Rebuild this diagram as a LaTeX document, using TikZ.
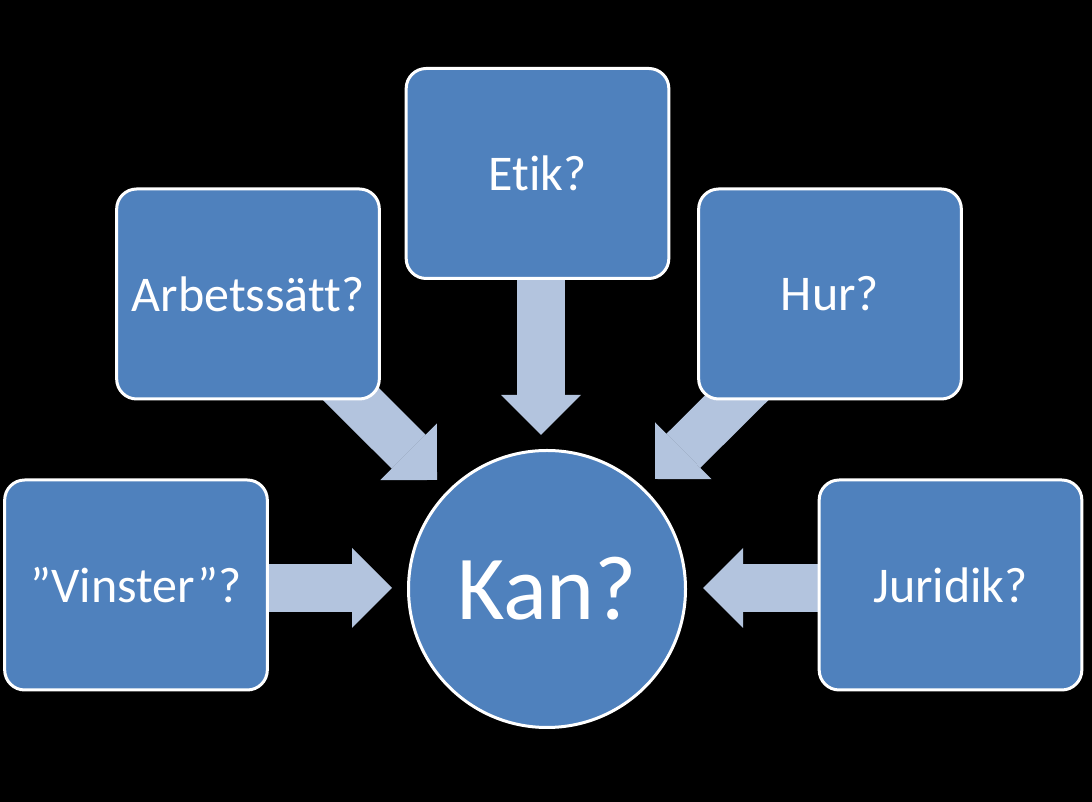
\documentclass[tikz,border=0pt]{standalone}
\usepackage{fontspec}
\setmainfont[Ligatures={NoCommon}]{Carlito}
\usetikzlibrary{arrows.meta,calc}
\definecolor{boxblue}{RGB}{79,129,189}
\definecolor{arrowblue}{RGB}{179,196,222}
\pgfdeclarelayer{back}
\pgfdeclarelayer{links}
\pgfsetlayers{back,links,main}
\tikzset{
  qbox/.style={draw=white, fill=boxblue, line width=2.25pt, rounded corners=15pt,
    minimum width=197pt, minimum height=157.5pt, text=white,
    font=\fontsize{37.5}{45}\selectfont},
  hub/.style={circle, draw=white, fill=boxblue, line width=2.25pt,
    minimum size=207.75pt, inner sep=0pt, text=white,
    font=\fontsize{68.5}{82}\selectfont},
  fatarrow/.style={draw=arrowblue, line width=36pt,
    -{Triangle[width=60pt,length=30pt,line width=0pt]}}
}
\begin{document}
\begin{tikzpicture}[x=0.75pt,y=0.75pt]
  \begin{pgfonlayer}{back}
    \fill[black] (0,0) rectangle (1092,802);
  \end{pgfonlayer}
  % question boxes
  \node[qbox] (etik) at (537.5,628.5) {Etik?};
  \node[qbox] (arb) at (248,508) {Arbetssätt?};
  \node[qbox] (hur) at (830,508) {Hur?};
  \node[qbox] (vinst) at (136,217) {”Vinster”?};
  \node[qbox] (jur) at (950.5,217) {Juridik?};
  \node[hub] (kan) at (547,213) {Kan?};
  % arrow tips
  \coordinate (tipetik) at (541,367);
  \coordinate (tiparb) at (437,322);
  \coordinate (tiphur) at (655,323);
  \coordinate (tipvinst) at (392,214);
  \coordinate (tipjur) at (703,214);
  \begin{pgfonlayer}{links}
    \draw[fatarrow] ($(etik.south -| tipetik)+(0,25)$) -- (tipetik);
    \draw[fatarrow] ($(arb.south east)+(-54.5,31)$) -- (tiparb);
    \draw[fatarrow] ($(hur.south west)+(69,32)$) -- (tiphur);
    \draw[fatarrow] ($(vinst.east |- tipvinst)+(-20,0)$) -- (tipvinst);
    \draw[fatarrow] ($(jur.west |- tipjur)+(20,0)$) -- (tipjur);
  \end{pgfonlayer}
\end{tikzpicture}
\end{document}
